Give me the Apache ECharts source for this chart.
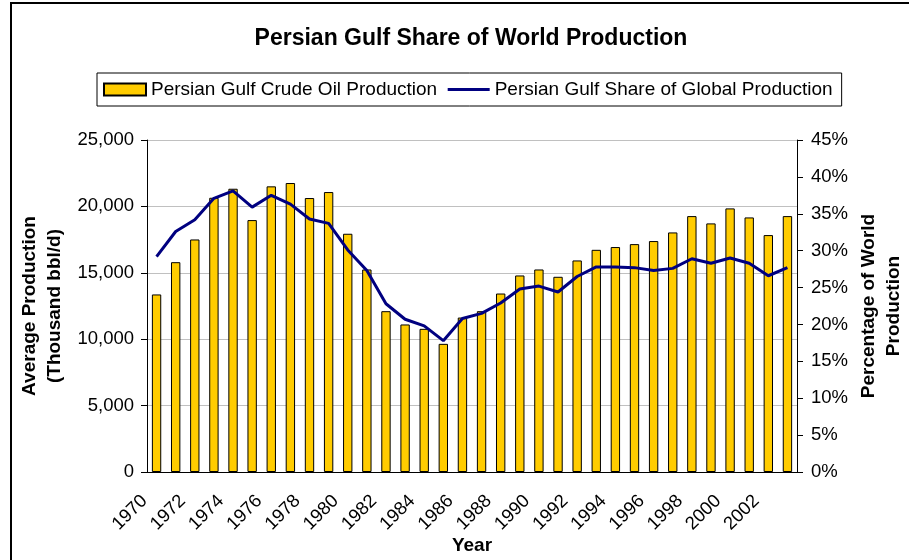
<!DOCTYPE html>
<html>
<head>
<meta charset="utf-8">
<script src="https://cdn.jsdelivr.net/npm/echarts@6/dist/echarts.min.js"></script>
<style>
  html, body { margin: 0; padding: 0; background: #fff; }
  #chart { width: 909px; height: 560px; }
</style>
</head>
<body>
<div id="chart"></div>
<script>
// Persian Gulf output vs its share of world production, 1970–2003.
const years = ['1970', '1971', '1972', '1973', '1974', '1975', '1976', '1977', '1978', '1979',
  '1980', '1981', '1982', '1983', '1984', '1985', '1986', '1987', '1988', '1989',
  '1990', '1991', '1992', '1993', '1994', '1995', '1996', '1997', '1998', '1999',
  '2000', '2001', '2002', '2003'];

// thousand bbl/d
const production = [13370, 15800, 17510, 20650, 21330, 18970, 21510, 21760, 20630, 21080,
  17940, 15250, 12110, 11110, 10780, 9650, 11630, 12110, 13440, 14800,
  15250, 14700, 15930, 16730, 16940, 17160, 17390, 18040, 19270, 18720,
  19850, 19170, 17840, 19270];

// % of world production
const share = [29.2, 32.6, 34.2, 37.1, 38.1, 35.9, 37.5, 36.3, 34.3, 33.7,
  30.1, 27.3, 22.8, 20.7, 19.8, 17.8, 20.8, 21.5, 22.9, 24.8,
  25.2, 24.4, 26.5, 27.8, 27.8, 27.7, 27.3, 27.6, 28.9, 28.3,
  29.0, 28.3, 26.6, 27.7];

const FONT = '"Liberation Sans", Arial, sans-serif';
const LBL = 18.5;
const chart = echarts.init(document.getElementById('chart'), null, { renderer: 'canvas' });

chart.setOption({
  animation: false,
  textStyle: { fontFamily: FONT },
  title: {
    text: 'Persian Gulf Share of World Production',
    left: 466, top: 22, textAlign: 'center',
    textStyle: { fontFamily: FONT, fontSize: 23, fontWeight: 'bold', color: '#000' }
  },
  graphic: [{
    type: 'rect', silent: true,
    shape: { x: 11, y: 3, width: 1000, height: 1000 },
    style: { fill: 'none', stroke: '#000', lineWidth: 2 }
  }],
  legend: {
    left: 97, top: 73,
    padding: [7, 9, 7, 6],
    borderColor: '#000', borderWidth: 1,
    itemWidth: 42, itemHeight: 12, itemGap: 9,
    textStyle: { fontFamily: FONT, fontSize: 19, color: '#000' },
    data: [
      { name: 'Persian Gulf Crude Oil Production', icon: 'rect' },
      { name: 'Persian Gulf Share of Global Production', itemStyle: { opacity: 0 }, lineStyle: { width: 3 } }
    ]
  },
  grid: { left: 147, right: 112, top: 140, bottom: 88, containLabel: false, outerBoundsMode: 'none' },
  xAxis: {
    type: 'category', data: years,
    name: 'Year', nameLocation: 'middle', nameGap: 64, nameMoveOverlap: false,
    nameTextStyle: { fontFamily: FONT, fontSize: 19, fontWeight: 'bold', color: '#000' },
    axisLine: { lineStyle: { color: '#000', width: 1 } },
    axisTick: { interval: 0, length: 7, lineStyle: { color: '#000' } },
    axisLabel: {
      interval: 1, rotate: 45, fontSize: LBL, color: '#000', margin: 14,
      padding: [0, 17, 0, 0], fontFamily: FONT
    }
  },
  yAxis: [{
    type: 'value', min: 0, max: 25000, interval: 5000,
    name: 'Average Production\n(Thousand bbl/d)', nameLocation: 'middle', nameGap: 80,
    nameMoveOverlap: false,
    nameTextStyle: { fontFamily: FONT, fontSize: 19, fontWeight: 'bold', color: '#000', lineHeight: 25 },
    axisLine: { show: true, lineStyle: { color: '#000' } },
    axisTick: { show: true, length: 6, lineStyle: { color: '#000' } },
    axisLabel: {
      fontSize: LBL, color: '#000', margin: 13, fontFamily: FONT,
      formatter: v => v.toLocaleString('en-US')
    },
    splitLine: { lineStyle: { color: '#c0c0c0', width: 1 } }
  }, {
    type: 'value', min: 0, max: 45, interval: 5, position: 'right',
    name: 'Percentage of World\nProduction', nameLocation: 'middle', nameGap: 59,
    nameRotate: 90, nameMoveOverlap: false,
    nameTextStyle: { fontFamily: FONT, fontSize: 19, fontWeight: 'bold', color: '#000', lineHeight: 25 },
    axisLine: { show: true, lineStyle: { color: '#000' } },
    axisTick: { show: true, length: 6, lineStyle: { color: '#000' } },
    axisLabel: { fontSize: LBL, color: '#000', margin: 14, fontFamily: FONT, formatter: '{value}%' },
    splitLine: { show: false }
  }],
  series: [{
    name: 'Persian Gulf Crude Oil Production',
    type: 'bar', data: production, barWidth: '49%',
    itemStyle: { color: '#FFCC00', borderColor: '#000', borderWidth: 1 }
  }, {
    name: 'Persian Gulf Share of Global Production',
    type: 'line', yAxisIndex: 1, data: share,
    showSymbol: false, symbol: 'none',
    lineStyle: { color: '#000080', width: 3 },
    itemStyle: { color: '#000080' }
  }]
});
</script>
</body>
</html>
